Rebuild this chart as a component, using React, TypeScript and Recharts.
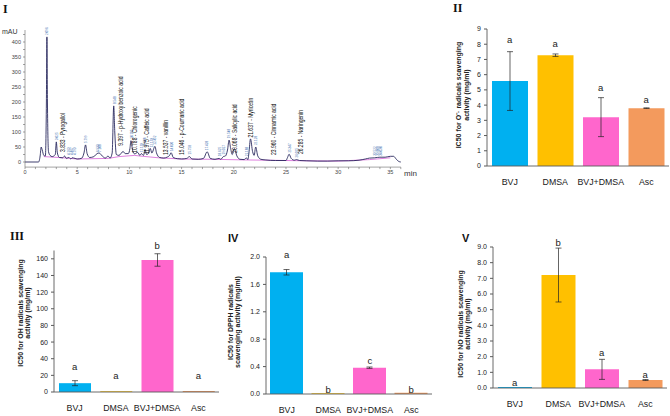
import React from 'react'
import { LineChart, Line, XAxis, YAxis, ComposedChart, Bar, ErrorBar, LabelList, Cell } from 'recharts'

// ---- panel I : HPLC chromatogram (time in min, absorbance in mAU)
const chromTime = [0, 1.3, 1.45, 1.55, 1.65, 1.8, 1.95, 2.05, 2.1, 2.15, 2.25, 2.4, 2.6, 2.9, 3.0, 3.1, 3.3, 3.6, 3.8, 3.95, 4.2, 4.4, 4.5, 4.8, 5.0, 5.4, 5.65, 5.8, 5.95, 6.2, 6.6, 6.9, 7.1, 7.4, 7.7, 7.95, 8.15, 8.35, 8.5, 8.6, 8.75, 9.0, 9.4, 9.6, 9.9, 10.05, 10.15, 10.3, 10.5, 10.8, 11.0, 11.15, 11.35, 11.5, 11.65, 11.85, 12.0, 12.15, 12.45, 12.6, 12.9, 13.3, 13.6, 13.85, 14.0, 14.2, 14.6, 15.0, 15.5, 15.75, 16.0, 16.6, 17.1, 17.45, 17.75, 18.2, 18.6, 18.75, 19.0, 19.2, 19.4, 19.55, 19.7, 19.85, 20.05, 20.3, 20.6, 21.0, 21.2, 21.35, 21.45, 21.6, 21.8, 21.95, 22.1, 22.3, 22.6, 23.0, 24.0, 25.0, 25.15, 25.3, 25.5, 25.8, 26.0, 26.3, 27.0, 28.0, 29.0, 30.0, 31.0, 32.0, 32.6, 33.0, 33.5, 34.0, 34.5, 35.0, 35.3, 35.6, 35.8, 36.0]
const chromMAU = [0, 0, 20, 50, 40, 22, 20, 200, 417, 200, 35, 22, 18, 25, 67, 30, 15, 14, 20, 12, 15, 10, 14, 12, 10, 12, 30, 57, 28, 15, 18, 28, 30, 20, 13, 20, 13, 30, 187, 100, 25, 22, 35, 28, 28, 45, 71, 40, 27, 32, 22, 28, 22, 42, 25, 30, 45, 30, 52, 30, 15, 13, 16, 22, 31, 15, 11, 10, 12, 18, 10, 9, 12, 34, 12, 9, 12, 9, 18, 20, 40, 73, 45, 25, 45, 20, 9, 8, 14, 8, 30, 77, 35, 22, 50, 20, 9, 7, 5, 5, 15, 26, 12, 6, 8, 5, 4, 3, 3, 4, 4, 6, 10, 13, 14, 16, 16, 19, 19, 8, 2, 0]
const baseTime = [1.8, 3.3, 5.0, 8.0, 9.0, 10.5, 11.0, 12.8, 15.0, 18.0, 21.0, 23.0, 25.0, 27.0, 30.0, 33.0, 35.0]
const baseMAU = [18, 15, 10, 12, 18, 22, 20, 14, 10, 9, 7, 6, 5, 4, 3, 8, 14]

const peakNames = ['3.833 - Pyrogallol', '9.397 - p-Hydroxy benzoic acid', '10.788 - Chlorogenic', '11.975 - Caffeic acid', '13.537 - vanillin', '15.046 - p-Coumaric acid', '20.068 - Salicylic acid', '21.637 - Myricetin', '23.960 - Cinnamic acid', '26.285 - Naringenin']
const peakNameTime = [3.57, 9.17, 10.47, 11.66, 13.48, 15.01, 20.11, 21.62, 23.85, 26.44]
const peakNameMAU = [30, 51, 27, 23, 20, 20, 27, 78, 20, 23]

const rtLabels = ['2.096', '3.025', '4.163', '4.467', '4.793', '5.799', '6.933', '7.108', '8.548', '10.185', '11.133', '11.508', '12.133', '12.452', '14.020', '15.758', '17.428', '18.625', '19.017', '19.548', '21.188', '22.128', '25.347', '26.015', '33.522', '33.808', '34.030']
const rtTime = [2.1, 3.03, 4.16, 4.47, 4.79, 5.8, 6.93, 7.11, 8.55, 10.19, 11.13, 11.51, 12.13, 12.45, 14.02, 15.76, 17.43, 18.63, 19.02, 19.55, 21.19, 22.13, 25.35, 26.02, 33.52, 33.81, 34.03]
const rtMAU = [420, 70, 20, 20, 20, 60, 30, 30, 190, 74, 30, 48, 46, 54, 33, 22, 36, 16, 22, 76, 16, 53, 28, 12, 18, 18, 18]

const minTicks = [0, 1, 2, 3, 4, 5, 6, 7, 8, 9, 10, 11, 12, 13, 14, 15, 16, 17, 18, 19, 20, 21, 22, 23, 24, 25, 26, 27, 28, 29, 30, 31, 32, 33, 34, 35, 36]
const mauTicks = [0, 25, 50, 75, 100, 125, 150, 175, 200, 225, 250, 275, 300, 325, 350, 375, 400, 425]

// ---- bar panels
const groups = ['BVJ', 'DMSA', 'BVJ+DMSA', 'Asc']
const barColors = ['#00B0F0', '#FFC000', '#FF66CC', '#F39A5D']

const o2Mean = [5.58, 7.28, 3.21, 3.8]
const o2Sd = [1.93, 0.08, 1.28, 0.02]
const o2Letter = ['a', 'a', 'a', 'a']
const o2LetterAt = [7.95, 7.71, 4.82, 4.05]

const ohMean = [10.6, 0.8, 158.6, 1.2]
const ohSd = [3.0, 0, 7.5, 0]
const ohLetter = ['a', 'a', 'b', 'a']
const ohLetterAt = [25.2, 14.4, 169.4, 14.4]

const dpphMean = [1.777, 0.01, 0.384, 0.02]
const dpphSd = [0.04, 0, 0.01, 0]
const dpphLetter = ['a', 'b', 'c', 'b']
const dpphLetterAt = [1.97, 0.0, 0.416, 0.0]

const noMean = [0.07, 7.21, 1.19, 0.51]
const noSd = [0, 1.72, 0.64, 0.03]
const noLetter = ['a', 'b', 'a', 'a']
const noLetterAt = [0.03, 9.0, 1.95, 0.56]

const o2Ticks = [0, 1, 2, 3, 4, 5, 6, 7, 8, 9]
const ohTicks = [0, 20, 40, 60, 80, 100, 120, 140, 160]
const dpphTicks = [0, 0.4, 0.8, 1.2, 1.6, 2.0]
const noTicks = [0, 1, 2, 3, 4, 5, 6, 7, 8, 9]

const toRows = (mean: number[], sd: number[], letter: string[], at: number[]) =>
  groups.map((g, i) => ({ name: g, mean: mean[i], sd: sd[i], letter: letter[i], at: at[i] }))

// vertical text reading upwards from the anchor point, squeezed along its length
function RotLabel(props: any) {
  const { x, y, value, size, fill, squeeze } = props
  if (x == null || y == null) return null
  return (
    <text x={0} y={0} transform={`translate(${x},${y - 1}) rotate(-90) scale(${squeeze},1)`} dy="0.35em" fontSize={size} fill={fill} textAnchor="start">
      {value}
    </text>
  )
}

function Chromatogram() {
  const trace = chromTime.map((t, i) => ({ t, mAU: chromMAU[i] }))
  const base = baseTime.map((t, i) => ({ t, mAU: baseMAU[i] }))
  const names = peakNameTime.map((t, i) => ({ t, mAU: peakNameMAU[i], name: peakNames[i] }))
  const rts = rtTime.map((t, i) => ({ t, mAU: rtMAU[i], name: rtLabels[i] }))
  return (
    <LineChart width={420} height={190} margin={{ top: 30, right: 19.2, left: 0, bottom: 0 }}>
      <XAxis type="number" dataKey="t" domain={[0, 36]} ticks={minTicks} interval={0}
        tickFormatter={(v: number) => (v % 5 === 0 ? String(v) : '')}
        height={22.9} tickSize={2} tickMargin={1}
        tick={{ fontSize: 5.5, fill: '#444' }} axisLine={{ stroke: '#666', strokeWidth: 0.6 }} tickLine={{ stroke: '#666', strokeWidth: 0.6 }} />
      <YAxis type="number" domain={[-17, 440]} ticks={mauTicks} interval={0} width={25}
        tickFormatter={(v: number) => (v % 50 === 0 ? String(v) : '')}
        tickSize={2} tickMargin={2}
        tick={{ fontSize: 5.5, fill: '#444' }} axisLine={{ stroke: '#666', strokeWidth: 0.6 }} tickLine={{ stroke: '#666', strokeWidth: 0.6 }} />
      <Line data={base} dataKey="mAU" type="linear" stroke="#d04ad0" strokeWidth={0.7} dot={false} isAnimationActive={false} />
      <Line data={trace} dataKey="mAU" type="monotone" stroke="#1e1e55" strokeWidth={0.85} dot={false} isAnimationActive={false} />
      <Line data={rts} dataKey="mAU" stroke="none" dot={false} isAnimationActive={false}>
        <LabelList dataKey="name" content={(p: any) => <RotLabel {...p} size={3.8} squeeze={0.8} fill="#2a5da8" />} />
      </Line>
      <Line data={names} dataKey="mAU" stroke="none" dot={false} isAnimationActive={false}>
        <LabelList dataKey="name" content={(p: any) => <RotLabel {...p} size={6.6} squeeze={0.76} fill="#111" />} />
      </Line>
    </LineChart>
  )
}

function BarPanel(props: any) {
  const { rows, width, height, yW, xH, top, right, domain, ticks, fmt, barSize } = props
  return (
    <ComposedChart width={width} height={height} data={rows} margin={{ top, right, left: 0, bottom: 0 }}>
      <XAxis dataKey="name" height={xH} interval={0} tickLine={false} tickSize={0} tickMargin={13}
        tick={{ fontSize: 8.8, fill: '#1a1a1a' }} axisLine={{ stroke: '#595959', strokeWidth: 0.9 }} />
      <YAxis width={yW} domain={domain} ticks={ticks} interval={0} tickFormatter={fmt} tickSize={3} tickMargin={3}
        tick={{ fontSize: 7, fill: '#222' }} axisLine={{ stroke: '#595959', strokeWidth: 0.9 }} tickLine={{ stroke: '#595959' }} />
      <Bar dataKey="mean" barSize={barSize} isAnimationActive={false}>
        {rows.map((r: any, i: number) => <Cell key={r.name} fill={barColors[i]} />)}
        <ErrorBar dataKey="sd" width={3} stroke="#222" strokeWidth={0.7} />
      </Bar>
      <Line dataKey="at" stroke="none" dot={false} isAnimationActive={false}>
        <LabelList dataKey="letter" position="top" offset={1.5} fill="#222" fontSize={9.5} />
      </Line>
    </ComposedChart>
  )
}

function RotTitle({ x, y, lines, dx }: { x: number; y: number; lines: string[]; dx: number }) {
  return (
    <g>
      {lines.map((l, i) => (
        <text key={i} transform={`translate(${x + i * dx},${y}) rotate(-90)`} textAnchor="middle" dominantBaseline="central"
          fontSize={7} fontWeight="bold" fill="#222">{l}</text>
      ))}
    </g>
  )
}

export default function App() {
  const one = (v: number) => v.toFixed(1)
  return (
    <div style={{ position: 'absolute', left: 0, top: 0, width: 670, height: 416, background: '#fff', overflow: 'hidden', fontFamily: '"Liberation Sans", Arial, sans-serif' }}>
      <div style={{ position: 'absolute', left: 0, top: 0 }}><Chromatogram /></div>
      <div style={{ position: 'absolute', left: 420, top: 0 }}>
        <BarPanel rows={toRows(o2Mean, o2Sd, o2Letter, o2LetterAt)} width={250} height={200} yW={67} xH={34} top={29} right={1}
          domain={[0, 9]} ticks={o2Ticks} fmt={(v: number) => String(v)} barSize={36} />
      </div>
      <div style={{ position: 'absolute', left: 0, top: 200 }}>
        <BarPanel rows={toRows(ohMean, ohSd, ohLetter, ohLetterAt)} width={230} height={216} yW={54} xH={24} top={50.5} right={11}
          domain={[0, 170]} ticks={ohTicks} fmt={(v: number) => String(v)} barSize={32} />
      </div>
      <div style={{ position: 'absolute', left: 220, top: 200 }}>
        <BarPanel rows={toRows(dpphMean, dpphSd, dpphLetter, dpphLetterAt)} width={220} height={216} yW={46} xH={22} top={57} right={8}
          domain={[0, 2]} ticks={dpphTicks} fmt={one} barSize={33} />
      </div>
      <div style={{ position: 'absolute', left: 440, top: 200 }}>
        <BarPanel rows={toRows(noMean, noSd, noLetter, noLetterAt)} width={230} height={216} yW={53} xH={28} top={47} right={3}
          domain={[0, 9]} ticks={noTicks} fmt={one} barSize={34} />
      </div>
      <svg width={670} height={416} style={{ position: 'absolute', left: 0, top: 0, pointerEvents: 'none' }}>
        <g fontFamily='"Liberation Serif", "Times New Roman", serif' fontWeight="bold" fontSize={12} fill="#111">
          <text x={3} y={13}>I</text>
          <text x={453} y={12}>II</text>
          <text x={10} y={240}>III</text>
        </g>
        <g fontWeight="bold" fontSize={11} fill="#111">
          <text x={228} y={242}>IV</text>
          <text x={462} y={242}>V</text>
        </g>
        <text x={2} y={31} fontSize={7} fill="#333" dominantBaseline="central">mAU</text>
        <text x={404} y={173} fontSize={8} fill="#333" dominantBaseline="central">min</text>
        <RotTitle x={458.3} y={95} dx={8.4} lines={['IC50 for O\u207B\u00B7 radicals scavenging', 'activity (mg/ml)']} />
        <RotTitle x={20} y={313} dx={7} lines={['IC50 for OH radicals scavenging', 'activity (mg/ml)']} />
        <RotTitle x={230} y={322} dx={7.3} lines={['IC50 for  DPPH radicals', 'scavenging activity (mg/ml)']} />
        <RotTitle x={460} y={324} dx={7.3} lines={['IC50 for NO radicals scavenging', 'activity (mg/ml)']} />
      </svg>
    </div>
  )
}
